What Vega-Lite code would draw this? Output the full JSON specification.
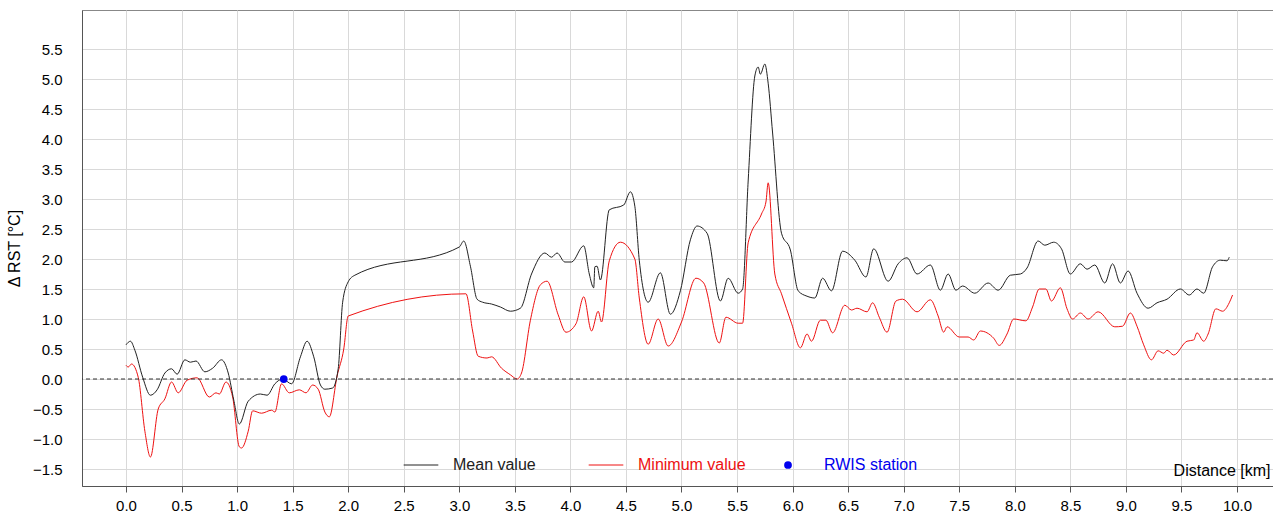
{
"$schema":"https://vega.github.io/schema/vega-lite/v6.json",
"autosize":{"type":"none"},
"padding":{"left":82,"top":10,"right":0,"bottom":35},
"width":1191,"height":476,
"config":{"font":"Liberation Sans","view":{"stroke":"#888"}},
"datasets":{
"mean":[[0.0,0.57],[0.04,0.63],[0.08,0.48],[0.15,0.03],[0.22,-0.27],[0.28,-0.18],[0.35,0.1],[0.41,0.17],[0.46,0.08],[0.53,0.32],[0.58,0.28],[0.63,0.3],[0.71,0.12],[0.78,0.18],[0.86,0.32],[0.92,0.1],[0.97,-0.35],[1.02,-0.75],[1.1,-0.37],[1.21,-0.25],[1.27,-0.27],[1.34,-0.08],[1.41,0.0],[1.49,-0.08],[1.57,0.37],[1.63,0.63],[1.69,0.37],[1.75,-0.1],[1.79,-0.17],[1.86,-0.15],[1.91,0.17],[1.95,1.28],[2.0,1.62],[2.06,1.73],[3.0,2.2],[3.04,2.3],[3.1,1.88],[3.16,1.33],[3.21,1.28],[3.29,1.25],[3.37,1.2],[3.46,1.13],[3.55,1.18],[3.65,1.75],[3.77,2.1],[3.83,2.03],[3.88,2.1],[3.95,1.95],[4.01,1.95],[4.12,2.22],[4.17,1.75],[4.21,1.52],[4.22,1.87],[4.24,1.88],[4.27,1.65],[4.35,2.82],[4.48,2.9],[4.54,3.12],[4.58,2.88],[4.62,1.98],[4.7,1.28],[4.81,1.77],[4.9,1.08],[4.99,1.47],[5.08,2.32],[5.14,2.55],[5.23,2.43],[5.35,1.3],[5.42,1.68],[5.51,1.43],[5.55,1.5],[5.6,3.3],[5.66,5.05],[5.69,5.2],[5.71,5.08],[5.75,5.25],[5.78,4.93],[5.82,4.1],[5.9,2.43],[5.98,2.15],[6.05,1.47],[6.13,1.38],[6.2,1.35],[6.27,1.68],[6.35,1.47],[6.45,2.13],[6.56,1.98],[6.66,1.7],[6.73,2.17],[6.86,1.63],[6.95,1.92],[7.03,2.02],[7.12,1.75],[7.24,1.9],[7.33,1.48],[7.4,1.75],[7.47,1.48],[7.53,1.55],[7.64,1.43],[7.76,1.6],[7.85,1.48],[7.96,1.73],[8.05,1.75],[8.11,1.85],[8.21,2.3],[8.27,2.23],[8.35,2.28],[8.42,2.17],[8.5,1.75],[8.59,1.92],[8.65,1.83],[8.72,1.9],[8.81,1.6],[8.88,1.92],[8.95,1.6],[9.02,1.8],[9.1,1.43],[9.2,1.18],[9.28,1.27],[9.37,1.33],[9.49,1.5],[9.57,1.4],[9.64,1.5],[9.7,1.43],[9.78,1.87],[9.85,1.98],[9.91,1.97],[9.93,2.03]],
"min":[[0.0,0.23],[0.02,0.2],[0.05,0.25],[0.11,0.03],[0.17,-0.87],[0.22,-1.3],[0.29,-0.5],[0.35,-0.33],[0.41,-0.05],[0.47,-0.23],[0.55,-0.02],[0.64,0.02],[0.75,-0.3],[0.81,-0.23],[0.84,-0.25],[0.9,-0.05],[0.96,-0.3],[1.02,-1.13],[1.04,-1.15],[1.1,-0.87],[1.14,-0.53],[1.22,-0.57],[1.31,-0.52],[1.34,-0.55],[1.4,-0.08],[1.47,-0.23],[1.56,-0.18],[1.62,-0.23],[1.68,-0.1],[1.73,-0.17],[1.79,-0.55],[1.83,-0.63],[1.9,0.05],[1.96,0.5],[2.0,1.05],[3.06,1.42],[3.12,0.8],[3.17,0.38],[3.25,0.35],[3.29,0.37],[3.38,0.18],[3.46,0.07],[3.52,0.0],[3.56,0.1],[3.64,0.98],[3.73,1.57],[3.79,1.63],[3.89,1.07],[3.96,0.78],[4.05,0.92],[4.12,1.37],[4.19,0.8],[4.25,1.13],[4.28,0.95],[4.35,1.97],[4.45,2.28],[4.58,2.0],[4.62,1.35],[4.7,0.58],[4.79,1.0],[4.88,0.55],[5.0,0.95],[5.13,1.68],[5.2,1.6],[5.34,0.6],[5.4,1.03],[5.51,0.93],[5.55,0.93],[5.6,2.27],[5.72,2.75],[5.76,2.95],[5.78,3.27],[5.84,1.75],[5.9,1.42],[5.99,0.93],[6.07,0.52],[6.13,0.75],[6.17,0.63],[6.25,0.98],[6.3,0.98],[6.36,0.77],[6.47,1.23],[6.53,1.15],[6.58,1.18],[6.67,1.12],[6.72,1.27],[6.78,1.03],[6.85,0.78],[6.93,1.3],[6.99,1.33],[7.12,1.12],[7.24,1.32],[7.31,1.05],[7.36,0.78],[7.39,0.87],[7.5,0.7],[7.58,0.7],[7.63,0.65],[7.69,0.8],[7.81,0.68],[7.86,0.56],[7.93,0.75],[7.99,1.0],[8.1,0.97],[8.16,1.2],[8.22,1.5],[8.28,1.5],[8.33,1.3],[8.41,1.52],[8.47,1.17],[8.52,1.0],[8.59,1.1],[8.66,1.0],[8.75,1.12],[8.9,0.87],[8.97,0.88],[9.04,1.1],[9.1,0.88],[9.16,0.57],[9.23,0.32],[9.29,0.47],[9.34,0.43],[9.37,0.48],[9.43,0.4],[9.55,0.63],[9.61,0.65],[9.64,0.77],[9.7,0.63],[9.74,0.75],[9.81,1.17],[9.87,1.13],[9.93,1.27],[9.96,1.4]]
},
"encoding":{
"y":{"field":"v","type":"quantitative","scale":{"domain":[-1.783,6.15],"nice":false,"zero":false},
"axis":{"title":"Δ RST [°C]","values":[-1.5,-1.0,-0.5,0,0.5,1.0,1.5,2.0,2.5,3.0,3.5,4.0,4.5,5.0,5.5],"format":".1f","tickSize":0,"labelPadding":20,"titlePadding":10,"labelFontSize":15,"labelColor":"#000","labelBound":false,"titleFontSize":16,"titleFontWeight":"normal","titleColor":"#000","gridColor":"#d9d9d9","domainColor":"#555","labelOverlap":false}}
},
"layer":[
{"data":{"name":"min"},"transform":[{"calculate":"'Minimum value'","as":"s"},{"calculate":"datum[0]","as":"d"},{"calculate":"datum[1]","as":"v"}],"mark":{"type":"line","strokeWidth":1,"interpolate":"monotone"},
"encoding":{"x":{"field":"d","type":"quantitative","scale":{"domain":[-0.396,10.324],"nice":false,"zero":false},
"axis":{"title":"Distance [km]","values":[0,0.5,1,1.5,2,2.5,3,3.5,4,4.5,5,5.5,6,6.5,7,7.5,8,8.5,9,9.5,10],"format":".1f","labelPadding":6,"tickSize":6,"labelFontSize":15,"labelColor":"#000","titleFontSize":16,"titleFontWeight":"normal","titleColor":"#000","gridColor":"#d9d9d9","domainColor":"#555","tickColor":"#555","labelOverlap":false,"titleAnchor":"end","titleAlign":"right","titleX":1188,"titleY":-8,"titleBaseline":"bottom"}},
"order":{"field":"d"},
"color":{"field":"s","type":"nominal","scale":{"domain":["Mean value","Minimum value"],"range":["#222222","#ee1111"]},
"legend":{"orient":"none","legendX":321,"legendY":437,"direction":"horizontal","title":null,"symbolType":"stroke","symbolStrokeWidth":1,"symbolSize":1200,"labelFontSize":16,"labelFont":"Liberation Sans","columnPadding":50,"labelOffset":14,"encode":{"labels":{"update":{"fill":{"scale":"color","field":"value"}}}}}}}},
{"data":{"values":[{"v":0}]},"mark":{"type":"rule","color":"#333","strokeDash":[4,3],"strokeWidth":1},"encoding":{}},
{"data":{"name":"mean"},"transform":[{"calculate":"'Mean value'","as":"s"},{"calculate":"datum[0]","as":"d"},{"calculate":"datum[1]","as":"v"}],"mark":{"type":"line","strokeWidth":1,"interpolate":"monotone"},
"encoding":{"x":{"field":"d","type":"quantitative"},"order":{"field":"d"},"color":{"field":"s","type":"nominal"}}},
{"data":{"values":[{"d":1.42,"v":0,"p":"RWIS station"}]},"mark":{"type":"point","filled":true,"size":60,"opacity":1},
"encoding":{"x":{"field":"d","type":"quantitative"},
"fill":{"field":"p","type":"nominal","scale":{"range":["#0000ee"]},"legend":{"orient":"none","legendX":698,"legendY":447,"title":null,"symbolType":"circle","symbolSize":60,"labelFontSize":16,"labelFont":"Liberation Sans","labelColor":"#0000ee","labelOffset":28}}}}
]
}
